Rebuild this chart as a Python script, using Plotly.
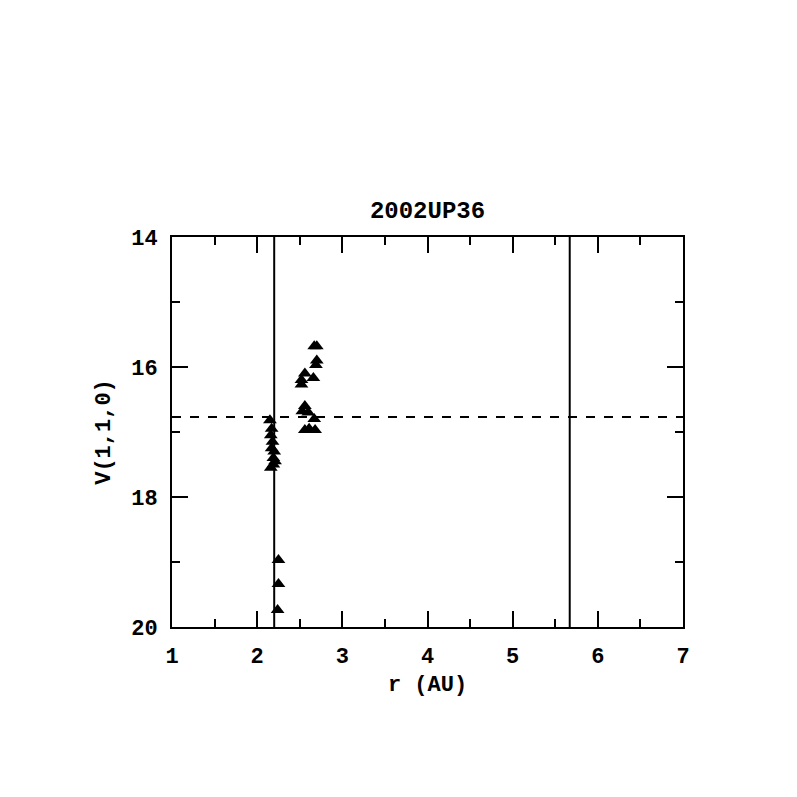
import plotly.graph_objects as go

title = "2002UP36"
x_label = "r (AU)"
y_label = "V(1,1,0)"

r_au = [2.15, 2.17, 2.16, 2.18, 2.17, 2.20, 2.19, 2.21, 2.16, 2.19,
        2.25, 2.25, 2.24,
        2.67, 2.70, 2.70, 2.69, 2.56, 2.66, 2.52, 2.52,
        2.56, 2.53, 2.60, 2.67, 2.56, 2.68, 2.61]
v110 = [16.82, 16.95, 17.05, 17.15, 17.25, 17.30, 17.40, 17.45, 17.55, 17.50,
        18.97, 19.34, 19.74,
        15.68, 15.68, 15.90, 15.97, 16.10, 16.17, 16.20, 16.27,
        16.60, 16.68, 16.70, 16.80, 16.97, 16.97, 16.95]

vertical_lines = [2.2, 5.67]
mean_v = 16.77

x_range = [1, 7]
y_range = [20, 14]

FONT = "Liberation Mono"
OFF = 8  # page body margin

fig = go.Figure()
fig.add_trace(go.Scatter(x=r_au, y=v110, mode="markers",
                         marker=dict(symbol="triangle-up", size=12, color="black",
                                     line=dict(width=0)),
                         showlegend=False))

for xv in vertical_lines:
    fig.add_shape(type="line", x0=xv, x1=xv, y0=0, y1=1, xref="x", yref="paper",
                  line=dict(color="black", width=2))
fig.add_shape(type="line", x0=0, x1=1, y0=mean_v, y1=mean_v, xref="paper", yref="y",
              line=dict(color="black", width=2, dash="dash"))

tickfont = dict(family=FONT, size=22, color="black", weight="bold")
titlefont = dict(family=FONT, size=22, color="black", weight="bold")

axis_common = dict(showgrid=False, zeroline=False, showline=True, linecolor="black",
                   linewidth=2, mirror="ticks", ticks="inside", ticklen=16,
                   tickwidth=2, tickcolor="black", tickfont=tickfont)

fig.update_xaxes(range=x_range, dtick=1, tick0=1, ticklabelstandoff=8,
                 minor=dict(dtick=0.5, ticks="inside", ticklen=8, tickwidth=2,
                            tickcolor="black", showgrid=False),
                 title=dict(text=x_label, font=titlefont, standoff=6),
                 **axis_common)
fig.update_yaxes(range=y_range, dtick=2, tick0=14, ticklabelstandoff=8,
                 minor=dict(dtick=1, ticks="inside", ticklen=8, tickwidth=2,
                            tickcolor="black", showgrid=False),
                 title=dict(text=y_label, font=titlefont, standoff=14),
                 **axis_common)

fig.update_layout(
    width=797, height=797,
    margin=dict(l=172 - OFF, r=114 + OFF, t=237 - OFF, b=170 + OFF),
    paper_bgcolor="white", plot_bgcolor="white",
    title=dict(text=title, x=(427.5 - OFF) / 797, xanchor="center",
               y=1 - (210 - OFF) / 797, yanchor="middle",
               font=dict(family=FONT, size=24, color="black", weight="bold")),
)

fig.write_html("out.html")
